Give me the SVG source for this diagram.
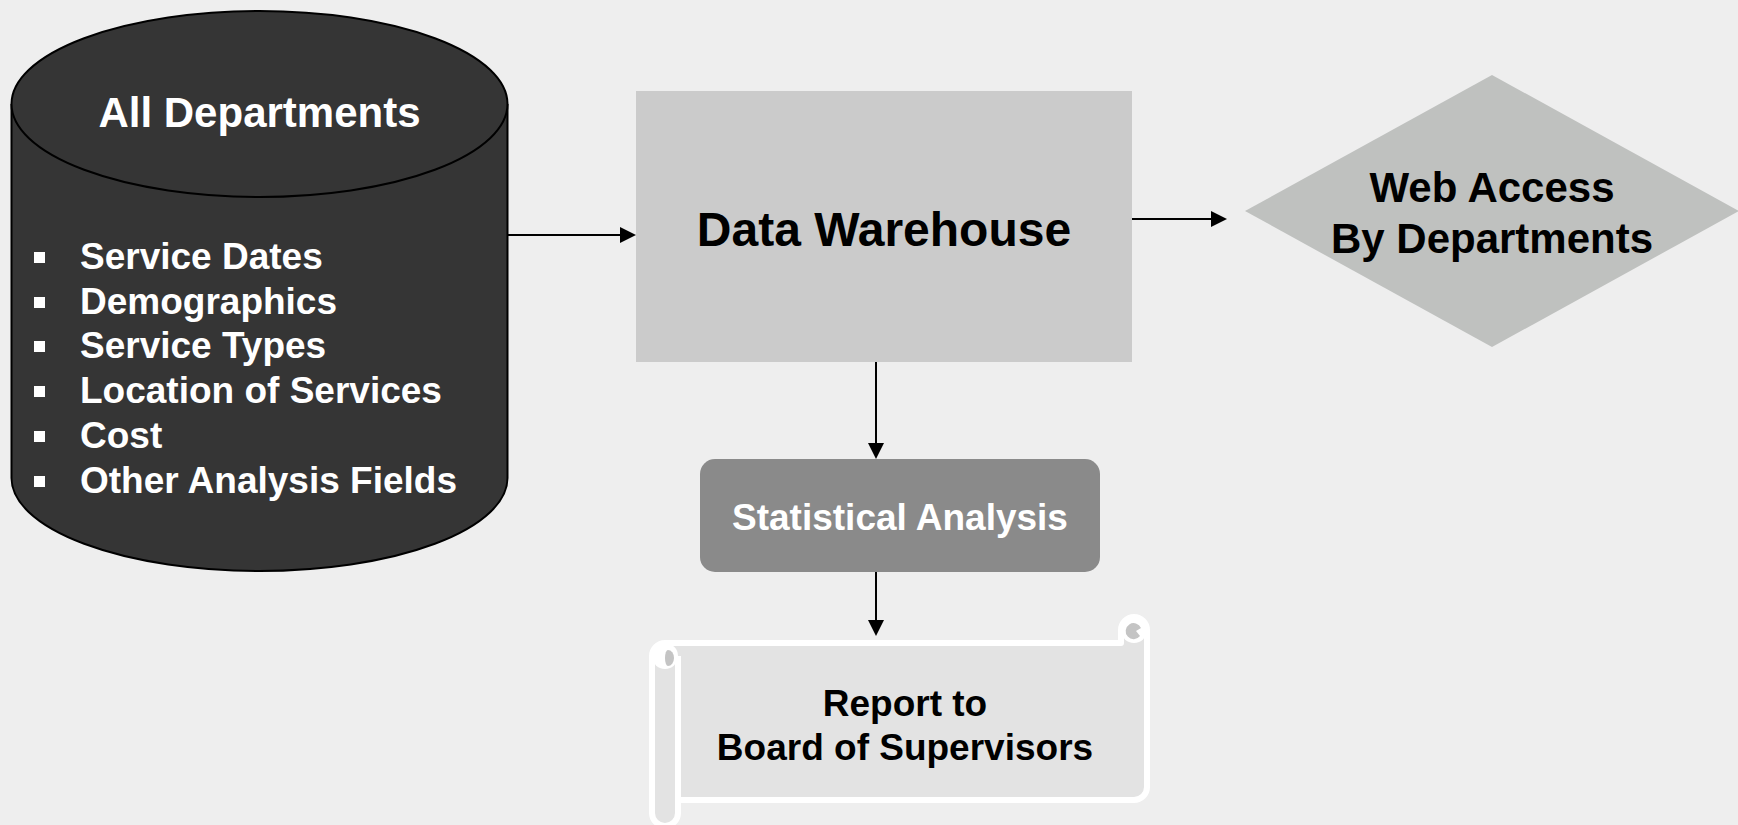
<svg xmlns="http://www.w3.org/2000/svg" width="1738" height="825" viewBox="0 0 1738 825">
<defs>
<style>
text{font-family:"Liberation Sans",Arial,sans-serif;font-weight:bold}
.w{fill:#ffffff}
.k{fill:#000000}
.c{text-anchor:middle}
.conn{stroke:#000;stroke-width:2;fill:none}
</style>
<marker id="ah" markerUnits="userSpaceOnUse" markerWidth="16" markerHeight="16" refX="0" refY="8" orient="auto">
<path d="M0,0 L16,8 L0,16 Z" fill="#000"/>
</marker>
</defs>
<rect x="0" y="0" width="1738" height="825" fill="#eeeeee"/>

<g id="all-departments">
<path d="M11.5,104 L11.5,478 A248,93 0 0 0 507.5,478 L507.5,104" fill="#353535" stroke="#000" stroke-width="2"/>
<ellipse cx="259.5" cy="104" rx="248" ry="93" fill="#353535" stroke="#000" stroke-width="2"/>
<text class="w c" x="259.5" y="127" font-size="42">All Departments</text>
<g fill="#ffffff">
<rect x="34" y="252" width="11" height="11"/>
<rect x="34" y="297" width="11" height="11"/>
<rect x="34" y="341" width="11" height="11"/>
<rect x="34" y="386" width="11" height="11"/>
<rect x="34" y="431" width="11" height="11"/>
<rect x="34" y="476" width="11" height="11"/>
</g>
<text class="w" x="80" y="269" font-size="37">Service Dates</text>
<text class="w" x="80" y="314" font-size="37">Demographics</text>
<text class="w" x="80" y="358" font-size="37">Service Types</text>
<text class="w" x="80" y="403" font-size="37">Location of Services</text>
<text class="w" x="80" y="448" font-size="37">Cost</text>
<text class="w" x="80" y="493" font-size="37">Other Analysis Fields</text>
</g>

<g id="data-warehouse">
<rect x="636" y="91" width="496" height="271" fill="#cbcbcb"/>
<text class="k c" x="884" y="246" font-size="48">Data Warehouse</text>
</g>

<g id="web-access">
<polygon points="1245,211 1492,75 1739,211 1492,347" fill="#bfc1bf"/>
<text class="k c" x="1492" y="202" font-size="42">Web Access</text>
<text class="k c" x="1492" y="253" font-size="42">By Departments</text>
</g>

<g id="statistical-analysis">
<rect x="700" y="459" width="400" height="113" rx="15" ry="15" fill="#8a8a8a"/>
<text class="w c" x="900" y="530" font-size="37">Statistical Analysis</text>
</g>

<g id="report">
<path d="M652,656 A13,13 0 0 1 665,643 L1121,643 L1121,630 A13,13 0 0 1 1147,630 L1147,787 A13,13 0 0 1 1134,800 L678,800 L678,813 A13,13 0 0 1 652,813 Z" fill="#e3e3e3" stroke="#ffffff" stroke-width="6" stroke-linejoin="round"/>
<line x1="678" y1="656" x2="678" y2="800" stroke="#ffffff" stroke-width="6"/>
<circle cx="665" cy="656" r="13" fill="#ffffff"/>
<path d="M668,650 A6,8 0 0 1 668,666 A3,8 0 0 1 668,650 Z" fill="#c4c4c4"/>
<circle cx="1134" cy="630" r="13" fill="#ffffff"/>
<path d="M1140,636 A8,8 0 1 1 1141,628 L1136,631 Z" fill="#c4c4c4"/>
<text class="k c" x="905" y="716" font-size="37">Report to</text>
<text class="k c" x="905" y="760" font-size="37">Board of Supervisors</text>
</g>

<g id="connectors">
<line class="conn" x1="508" y1="235" x2="620" y2="235" marker-end="url(#ah)"/>
<line class="conn" x1="1132" y1="219" x2="1211" y2="219" marker-end="url(#ah)"/>
<line class="conn" x1="876" y1="362" x2="876" y2="443" marker-end="url(#ah)"/>
<line class="conn" x1="876" y1="572" x2="876" y2="620" marker-end="url(#ah)"/>
</g>
</svg>
